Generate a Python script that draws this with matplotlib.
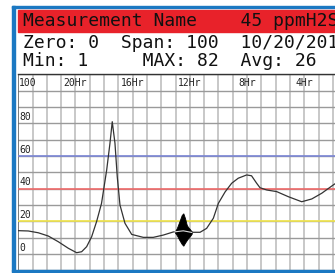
import matplotlib
matplotlib.use("Agg")
import matplotlib.pyplot as plt
from matplotlib.patches import Rectangle

# trace (hours ago, ppm)
hours = [24.0, 23.30, 22.60, 21.90, 21.20, 20.50, 19.92, 19.57, 19.22, 18.87,
         18.52, 18.18, 17.82, 17.59, 17.43, 17.24, 17.08, 16.89, 16.54, 16.07,
         15.26, 14.56, 13.86, 13.16, 12.46, 11.76, 11.29, 10.83, 10.36, 10.01,
         9.54, 9.08, 8.62, 8.03, 7.69, 7.33, 7.10, 6.63, 5.93, 5.12,
         4.18, 3.48, 2.78, 1.97, 1.85]
ppm = [14.3, 14.1, 13.0, 11.0, 7.5, 3.5, 0.8, 1.4, 4.5, 10.6,
       20.0, 31.0, 51.4, 67.8, 81.0, 67.8, 47.3, 30.0, 18.8, 12.0,
       10.2, 10.2, 11.6, 13.5, 14.2, 13.3, 13.3, 15.7, 21.9, 31.0,
       38.0, 43.3, 46.4, 48.4, 47.9, 43.3, 40.6, 39.2, 38.2, 35.1,
       32.0, 33.7, 37.2, 42.3, 43.0]

# noise burst envelope
blob_h = [13.04, 12.92, 12.74, 12.57, 12.46, 12.34, 12.22, 12.13, 11.99, 11.87]
blob_hi = [14.0, 15.7, 19.8, 23.9, 24.9, 21.9, 17.8, 16.5, 15.1, 13.7]
blob_lo = [13.0, 11.6, 8.6, 6.1, 5.1, 6.9, 8.5, 9.6, 11.0, 12.5]

alarms = [(60, "#7b86d6"), (40, "#f06a6a"), (20, "#f2e64a")]
y_labels = [100, 80, 60, 40, 20, 0]
hour_ticks = [20, 16, 12, 8, 4]

W, H = 335, 273
fig = plt.figure(figsize=(W / 100, H / 100), dpi=100)
mono = "DejaVu Sans Mono"


def px(x, y):
    return x / W, 1 - y / H


# frame and header
blue = "#1b78c2"
fig.add_artist(Rectangle(px(12, 271), 3 / W, 265 / H, color=blue, transform=fig.transFigure))
fig.add_artist(Rectangle(px(12, 8), (W - 12) / W, 2 / H, color=blue, transform=fig.transFigure))
fig.add_artist(Rectangle(px(18, 32), (W - 18) / W, 22 / H, color="#e8222a", transform=fig.transFigure))
fig.add_artist(Rectangle(px(12, 273), (W - 12) / W, 3 / H, color=blue, transform=fig.transFigure))

fig.text(*px(23, 21), "Measurement Name    45 ppmH2S", family=mono, fontsize=13, va="center", color="#111")
fig.text(*px(23, 43), "Zero: 0  Span: 100  10/20/2010", family=mono, fontsize=13, va="center", color="#111")
fig.text(*px(23, 61), "Min: 1     MAX: 82  Avg: 26", family=mono, fontsize=13, va="center", color="#111")

x0, y0 = px(18.3, 271)
ax = fig.add_axes([x0, y0, 1 - x0, (271 - 74) / H])
ax.set_xlim(24, 1.853)
ax.set_ylim(-10.4, 110.2)
ax.axis("off")

for h in range(2, 24):
    ax.axvline(h, color="#c4c4c4", lw=1.3, zorder=1)
for v in range(-10, 111, 10):
    ax.axhline(v, color="#9a9a9a", lw=1.0, zorder=1)
ax.axvline(24, color="#666", lw=1.2, zorder=2)
ax.axhline(110.2, color="#333", lw=1.0, zorder=2, clip_on=False)

for v, c in alarms:
    ax.axhline(v, color=c, lw=1.2, zorder=2)

ax.plot(hours, ppm, color="#333", lw=0.9, zorder=3)
ax.fill_between(blob_h, blob_lo, blob_hi, color="black", lw=0.6, zorder=4)
ax.plot([13.04, 12.46, 11.87], [13.6, 14.2, 13.2], color="#ddd", lw=0.8, zorder=5)

for v in y_labels:
    ax.text(23.95, v + 0.8 if v < 100 else 101.5, str(v), family=mono, fontsize=7,
            ha="left", va="bottom", color="#222", zorder=6)
for h in hour_ticks:
    ax.text(h, 101.5, f"{h}Hr", family=mono, fontsize=7, ha="center", va="bottom",
            color="#222", zorder=6)

fig.savefig("out.png", dpi=100)
